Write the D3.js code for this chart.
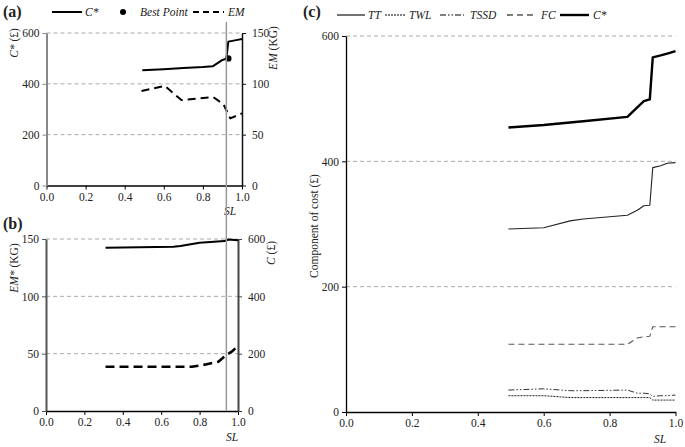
<!DOCTYPE html>
<html><head><meta charset="utf-8">
<script src="https://cdn.jsdelivr.net/npm/d3@7"></script>
<style>
body{margin:0;background:#fff;}
svg text{font-family:'Liberation Serif', Tinos, 'Times New Roman', Times, 'DejaVu Serif', serif !important;fill:#222;}
</style></head>
<body><svg id="c" width="685" height="447"></svg>
<script>
// ---------- data ----------
const slTicks = [0, 0.2, 0.4, 0.6, 0.8, 1.0];
const bestSL = 0.92;
// Panel (a)
const aSL_C = [0.49, 0.6, 0.7, 0.8, 0.85, 0.9, 0.92, 0.93, 0.97, 1.0];
const aCstar = [453, 457, 462, 466, 469, 494, 499, 566, 572, 576];
const aSL_EM = [0.486, 0.605, 0.69, 0.853, 0.905, 0.92, 0.94, 1.0];
const aEM = [93, 98, 84, 87, 80, 74, 66, 71];
const bestPoint = [0.93, 500];
const aLeftTicks = [0, 200, 400, 600];
const aRightTicks = [0, 50, 100, 150];
// Panel (b)
const bSL_solid = [0.31, 0.664, 0.70, 0.80, 0.93, 0.95, 1.0];
const bSolid = [142.4, 143.3, 143.9, 146.8, 148.2, 149.6, 149.0];
const bSL_dash = [0.31, 0.76, 0.837, 0.898, 0.938, 0.967, 1.0];
const bDash = [38.6, 38.6, 40.7, 43, 48.8, 51.7, 56.7];
const bLeftTicks = [0, 50, 100, 150];
const bRightTicks = [0, 200, 400, 600];
// Panel (c)
const cSL = [0.493, 0.60, 0.68, 0.72, 0.854, 0.884, 0.904, 0.922, 0.931, 0.955, 0.975, 1.0];
const cTT = [292, 294, 305, 308, 314, 322, 329, 330, 390, 393, 397, 398];
const cTWL = [26, 26, 23, 23, 23, 23, 23, 23, 19, 19, 19, 19];
const cTSSD = [35, 37, 34, 34, 35, 30, 30, 29, 25, 26, 26, 27];
const cFC = [108, 108, 108, 108, 108, 118, 120, 121, 136, 136, 136, 136];
const cCstar = [454, 458, 462, 464, 471, 486, 496, 499, 566, 569, 572, 576];
const cTicks = [0, 200, 400, 600];

const svg = d3.select("#c");
const FS = 11.5;

function grid(g, y, ticks, x0, x1){
  ticks.filter(t=>t>0).forEach(t=>{
    g.append("line").attr("x1",x0).attr("x2",x1).attr("y1",y(t)).attr("y2",y(t))
     .attr("stroke","#aaa").attr("stroke-width",1).attr("stroke-dasharray","4,3");
  });
}
function styleAxis(sel, color, width){
  sel.attr("font-family",null);
  sel.select(".domain").attr("stroke",color).attr("stroke-width",width);
  sel.selectAll(".tick line").attr("stroke",color).attr("stroke-width",1);
  sel.selectAll(".tick text").attr("font-size",FS).attr("fill","#222");
}
function path(g, xs, ys, x, y, opts){
  const data = xs.map((d,i)=>[d, ys[i]]);
  g.append("path").datum(data)
   .attr("d", d3.line().x(d=>x(d[0])).y(d=>y(d[1])))
   .attr("fill","none").attr("stroke",opts.color||"#000")
   .attr("stroke-width",opts.w||1).attr("stroke-dasharray",opts.dash||null)
   .attr("stroke-linejoin","round");
}
function legendLine(g, x0, x1, y, opts){
  g.append("line").attr("x1",x0).attr("x2",x1).attr("y1",y).attr("y2",y)
   .attr("stroke",opts.color||"#000").attr("stroke-width",opts.w||1).attr("stroke-dasharray",opts.dash||null);
}
function ltext(g, x, y, t, size){
  g.append("text").attr("x",x).attr("y",y).attr("font-size",size||11).attr("font-style","italic").text(t);
}

// ---------- Panel (a) ----------
{
  const x = d3.scaleLinear().domain([0,1]).range([46.5,242]);
  const y = d3.scaleLinear().domain([0,600]).range([185.5,33]);
  const y2 = d3.scaleLinear().domain([0,150]).range([185.5,33]);
  const g = svg.append("g");
  grid(g, y, aLeftTicks, 46.5, 242);
  const xa = g.append("g").attr("transform","translate(0,185.5)")
    .call(d3.axisBottom(x).tickValues(slTicks).tickFormat(d3.format(".1f")).tickSize(4).tickSizeOuter(0).tickPadding(3));
  styleAxis(xa,"#000",1.5);
  const ya = g.append("g").attr("transform","translate(46.5,0)")
    .call(d3.axisLeft(y).tickValues(aLeftTicks).tickSize(4).tickSizeOuter(0).tickPadding(3));
  styleAxis(ya,"#888",2);
  const yb = g.append("g").attr("transform","translate(242,0)")
    .call(d3.axisRight(y2).tickValues(aRightTicks).tickSize(4).tickSizeOuter(0).tickPadding(6));
  styleAxis(yb,"#111",1.5);
  path(g, aSL_C, aCstar, x, y, {w:2});
  path(g, aSL_EM, aEM, x, y2, {w:2, dash:"8,5"});
  g.append("circle").attr("cx",x(bestPoint[0])).attr("cy",y(bestPoint[1])).attr("r",3.2).attr("fill","#000");
  g.append("text").attr("x",230).attr("y",215).attr("text-anchor","middle").attr("font-size",FS).attr("font-style","italic").text("SL");
  g.append("text").attr("transform","translate(18,43) rotate(-90)").attr("text-anchor","middle").attr("font-size",FS)
   .html('<tspan font-style="italic">C*</tspan> (£)');
  g.append("text").attr("transform","translate(277,48) rotate(-90)").attr("text-anchor","middle").attr("font-size",FS)
   .html('<tspan font-style="italic">EM</tspan> (KG)');
  // legend
  g.append("text").attr("x",3).attr("y",17).attr("font-size",16).attr("font-weight","bold").text("(a)");
  legendLine(g, 52, 82, 12, {w:2});
  ltext(g, 85, 16, "C*", 11.5);
  g.append("circle").attr("cx",123).attr("cy",12).attr("r",3).attr("fill","#000");
  ltext(g, 140, 16, "Best Point", 11.5);
  legendLine(g, 193, 224, 12, {w:2, dash:"6,4"});
  ltext(g, 228, 16, "EM", 11.5);
}

// ---------- Panel (b) ----------
{
  const x = d3.scaleLinear().domain([0,1]).range([46,238]);
  const y = d3.scaleLinear().domain([0,150]).range([411,239]);
  const y2 = d3.scaleLinear().domain([0,600]).range([411,239]);
  const g = svg.append("g");
  grid(g, y, bLeftTicks, 46, 238);
  const xa = g.append("g").attr("transform","translate(0,411)")
    .call(d3.axisBottom(x).tickValues(slTicks).tickFormat(d3.format(".1f")).tickSize(4).tickSizeOuter(0).tickPadding(3));
  styleAxis(xa,"#000",1.5);
  const ya = g.append("g").attr("transform","translate(46,0)")
    .call(d3.axisLeft(y).tickValues(bLeftTicks).tickSize(4).tickSizeOuter(0).tickPadding(3));
  styleAxis(ya,"#555",2);
  const yb = g.append("g").attr("transform","translate(238,0)")
    .call(d3.axisRight(y2).tickValues(bRightTicks).tickSize(4).tickSizeOuter(0).tickPadding(6));
  styleAxis(yb,"#444",2);
  path(g, bSL_solid, bSolid, x, y, {w:2});
  path(g, bSL_dash, bDash, x, y, {w:2.6, dash:"9,5"});
  g.append("text").attr("x",232).attr("y",441).attr("text-anchor","middle").attr("font-size",FS).attr("font-style","italic").text("SL");
  g.append("text").attr("transform","translate(18,268) rotate(-90)").attr("text-anchor","middle").attr("font-size",FS)
   .html('<tspan font-style="italic">EM*</tspan> (KG)');
  g.append("text").attr("transform","translate(275,253) rotate(-90)").attr("text-anchor","middle").attr("font-size",FS)
   .html('<tspan font-style="italic">C</tspan> (£)');
  g.append("text").attr("x",3).attr("y",229).attr("font-size",16).attr("font-weight","bold").text("(b)");
}

// vertical best-SL line spanning (a) and (b)
{
  const x = d3.scaleLinear().domain([0,1]).range([46.5,242]);
  svg.append("line").attr("x1",x(bestSL)).attr("x2",x(bestSL)).attr("y1",22).attr("y2",411)
    .attr("stroke","#999").attr("stroke-width",1.5);
}

// ---------- Panel (c) ----------
{
  const x = d3.scaleLinear().domain([0,1]).range([346,675.5]);
  const y = d3.scaleLinear().domain([0,600]).range([412,36]);
  const g = svg.append("g");
  grid(g, y, cTicks, 346, 675.5);
  const xa = g.append("g").attr("transform","translate(0,412)")
    .call(d3.axisBottom(x).tickValues(slTicks).tickFormat(d3.format(".1f")).tickSize(4).tickSizeOuter(0).tickPadding(3));
  styleAxis(xa,"#000",1.3);
  const ya = g.append("g").attr("transform","translate(346,0)")
    .call(d3.axisLeft(y).tickValues(cTicks).tickSize(4).tickSizeOuter(0).tickPadding(3));
  styleAxis(ya,"#000",1.3);
  path(g, cSL, cTT, x, y, {w:1.1, color:"#222"});
  path(g, cSL, cTWL, x, y, {w:1, color:"#222", dash:"2,1"});
  path(g, cSL, cTSSD, x, y, {w:1, color:"#333", dash:"6,2,1.5,2,1.5,2"});
  path(g, cSL, cFC, x, y, {w:1.1, color:"#555", dash:"6,4"});
  path(g, cSL, cCstar, x, y, {w:2.4, color:"#000"});
  g.append("text").attr("x",660).attr("y",443).attr("text-anchor","middle").attr("font-size",FS).attr("font-style","italic").text("SL");
  g.append("text").attr("transform","translate(318,226) rotate(-90)").attr("text-anchor","middle").attr("font-size",FS)
   .text("Component of cost (£)");
  g.append("text").attr("x",303).attr("y",17).attr("font-size",16).attr("font-weight","bold").text("(c)");
  legendLine(g, 337, 365, 15, {w:1.1});
  ltext(g, 368, 19, "TT", 11.5);
  legendLine(g, 385, 405, 15, {w:1, dash:"2,1"});
  ltext(g, 409, 19, "TWL", 11.5);
  legendLine(g, 440, 464, 15, {w:1.2, dash:"6,2,1.5,2,1.5,2"});
  ltext(g, 470, 19, "TSSD", 11.5);
  legendLine(g, 507, 535, 15, {w:1.1, dash:"6,4"});
  ltext(g, 541, 19, "FC", 11.5);
  legendLine(g, 560, 589, 15, {w:2.4});
  ltext(g, 593, 19, "C*", 11.5);
}
</script></body></html>
